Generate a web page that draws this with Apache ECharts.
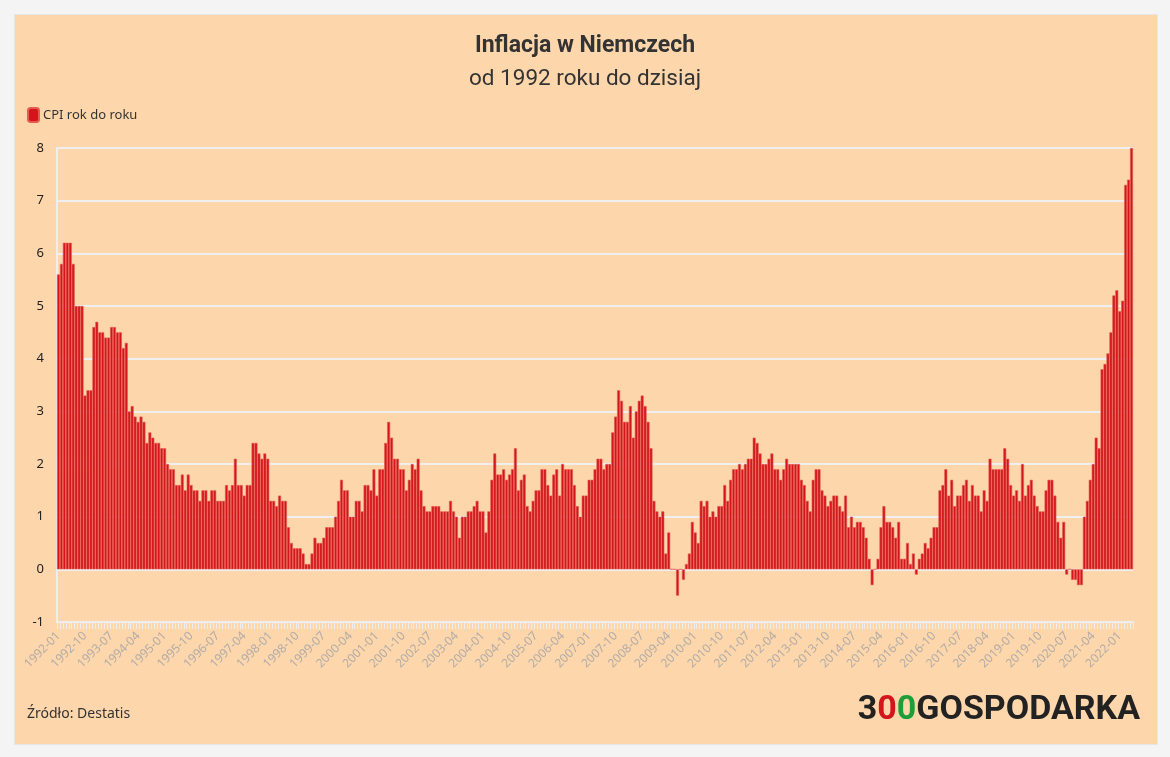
<!DOCTYPE html>
<html>
<head>
<meta charset="utf-8">
<script src="https://cdn.jsdelivr.net/npm/echarts@6/dist/echarts.min.js"></script>
<style>
  html, body { margin: 0; padding: 0; background: #f4f4f4; }
  #frame { position: absolute; left: 14px; top: 14px; width: 1142px; height: 729px; background: #fdd6ab; border: 1px solid #e6e6e6; }
  #chart { position: absolute; left: 0; top: 0; width: 1170px; height: 757px; }
</style>
</head>
<body>
<div id="frame"></div>
<div id="chart"></div>
<script>
// Monthly categories 1992-01 .. 2022-05
const startYear = 1992;
const endYear = 2022;
const lastMonth = 5;
const categories = [];
for (let y = startYear; y <= endYear; y++) {
  for (let m = 1; m <= 12; m++) {
    if (y === endYear && m > lastMonth) break;
    categories.push(y + '-' + (m < 10 ? '0' + m : m));
  }
}

// CPI year-over-year (%), grouped by year
const cpi1992 = [5.6, 5.8, 6.2, 6.2, 6.2, 5.8, 5.0, 5.0, 5.0, 3.3, 3.4, 3.4];
const cpi1993 = [4.6, 4.7, 4.5, 4.5, 4.4, 4.4, 4.6, 4.6, 4.5, 4.5, 4.2, 4.3];
const cpi1994 = [3.0, 3.1, 2.9, 2.8, 2.9, 2.8, 2.4, 2.6, 2.5, 2.4, 2.4, 2.3];
const cpi1995 = [2.3, 2.0, 1.9, 1.9, 1.6, 1.6, 1.8, 1.5, 1.8, 1.6, 1.5, 1.5];
const cpi1996 = [1.3, 1.5, 1.5, 1.3, 1.5, 1.5, 1.3, 1.3, 1.3, 1.6, 1.5, 1.6];
const cpi1997 = [2.1, 1.6, 1.6, 1.4, 1.6, 1.6, 2.4, 2.4, 2.2, 2.1, 2.2, 2.1];
const cpi1998 = [1.3, 1.3, 1.2, 1.4, 1.3, 1.3, 0.8, 0.5, 0.4, 0.4, 0.4, 0.3];
const cpi1999 = [0.1, 0.1, 0.3, 0.6, 0.5, 0.5, 0.6, 0.8, 0.8, 0.8, 1.0, 1.3];
const cpi2000 = [1.7, 1.5, 1.5, 1.0, 1.0, 1.3, 1.3, 1.1, 1.6, 1.6, 1.5, 1.9];
const cpi2001 = [1.4, 1.9, 1.9, 2.4, 2.8, 2.5, 2.1, 2.1, 1.9, 1.9, 1.5, 1.7];
const cpi2002 = [2.0, 1.9, 2.1, 1.5, 1.2, 1.1, 1.1, 1.2, 1.2, 1.2, 1.1, 1.1];
const cpi2003 = [1.1, 1.3, 1.1, 1.0, 0.6, 1.0, 1.0, 1.1, 1.1, 1.2, 1.3, 1.1];
const cpi2004 = [1.1, 0.7, 1.1, 1.7, 2.2, 1.8, 1.8, 1.9, 1.7, 1.8, 1.9, 2.3];
const cpi2005 = [1.5, 1.7, 1.8, 1.2, 1.1, 1.3, 1.5, 1.5, 1.9, 1.9, 1.6, 1.4];
const cpi2006 = [1.8, 1.9, 1.4, 2.0, 1.9, 1.9, 1.9, 1.6, 1.2, 1.0, 1.4, 1.4];
const cpi2007 = [1.7, 1.7, 1.9, 2.1, 2.1, 1.9, 2.0, 2.0, 2.6, 2.9, 3.4, 3.2];
const cpi2008 = [2.8, 2.8, 3.1, 2.5, 3.0, 3.2, 3.3, 3.1, 2.8, 2.3, 1.3, 1.1];
const cpi2009 = [1.0, 1.1, 0.3, 0.7, 0.0, 0.0, -0.5, 0.0, -0.2, 0.1, 0.3, 0.9];
const cpi2010 = [0.7, 0.5, 1.3, 1.2, 1.3, 1.0, 1.1, 1.0, 1.2, 1.2, 1.6, 1.3];
const cpi2011 = [1.7, 1.9, 1.9, 2.0, 1.9, 2.0, 2.1, 2.1, 2.5, 2.4, 2.2, 2.0];
const cpi2012 = [2.0, 2.1, 2.2, 1.9, 1.9, 1.7, 1.9, 2.1, 2.0, 2.0, 2.0, 2.0];
const cpi2013 = [1.7, 1.6, 1.3, 1.1, 1.7, 1.9, 1.9, 1.5, 1.4, 1.2, 1.3, 1.4];
const cpi2014 = [1.4, 1.2, 1.1, 1.4, 0.8, 1.0, 0.8, 0.9, 0.9, 0.8, 0.6, 0.2];
const cpi2015 = [-0.3, 0.0, 0.2, 0.8, 1.2, 0.9, 0.9, 0.8, 0.6, 0.9, 0.2, 0.2];
const cpi2016 = [0.5, 0.1, 0.3, -0.1, 0.2, 0.3, 0.5, 0.4, 0.6, 0.8, 0.8, 1.5];
const cpi2017 = [1.6, 1.9, 1.4, 1.7, 1.2, 1.4, 1.4, 1.6, 1.7, 1.3, 1.6, 1.4];
const cpi2018 = [1.4, 1.1, 1.5, 1.3, 2.1, 1.9, 1.9, 1.9, 1.9, 2.3, 2.1, 1.6];
const cpi2019 = [1.4, 1.5, 1.3, 2.0, 1.4, 1.6, 1.7, 1.4, 1.2, 1.1, 1.1, 1.5];
const cpi2020 = [1.7, 1.7, 1.4, 0.9, 0.6, 0.9, -0.1, 0.0, -0.2, -0.2, -0.3, -0.3];
const cpi2021 = [1.0, 1.3, 1.7, 2.0, 2.5, 2.3, 3.8, 3.9, 4.1, 4.5, 5.2, 5.3];
const cpi2022 = [4.9, 5.1, 7.3, 7.4, 8.0];

const cpiValues = [].concat(
  cpi1992, cpi1993, cpi1994, cpi1995, cpi1996, cpi1997, cpi1998, cpi1999,
  cpi2000, cpi2001, cpi2002, cpi2003, cpi2004, cpi2005, cpi2006, cpi2007,
  cpi2008, cpi2009, cpi2010, cpi2011, cpi2012, cpi2013, cpi2014, cpi2015,
  cpi2016, cpi2017, cpi2018, cpi2019, cpi2020, cpi2021, cpi2022
);

const seriesName = 'CPI rok do roku';
const titleText = 'Inflacja w Niemczech';
const subtitleText = 'od 1992 roku do dzisiaj';
const sourceText = 'Źródło: Destatis';

const chart = echarts.init(document.getElementById('chart'), null, { renderer: 'canvas' });
chart.setOption({
  backgroundColor: 'transparent',
  animation: false,
  title: {
    text: titleText,
    subtext: subtitleText,
    left: 'center',
    top: 30,
    itemGap: 10,
    textStyle: { fontFamily: 'Liberation Sans Narrow, Roboto, sans-serif', fontWeight: 'bold', fontSize: 23, color: '#333' },
    subtextStyle: { fontFamily: 'Roboto, sans-serif', fontSize: 22.5, color: '#333' }
  },
  legend: {
    left: 22,
    top: 102,
    icon: 'roundRect',
    itemWidth: 11,
    itemHeight: 14,
    itemGap: 5,
    textStyle: { fontFamily: 'Noto Sans, sans-serif', fontSize: 13, color: '#333', padding: [0, 0, 0, -1] },
    data: [seriesName]
  },
  grid: { left: 57, right: 37, top: 148, bottom: 135, containLabel: false },
  xAxis: {
    type: 'category',
    data: categories,
    axisLine: { onZero: false, lineStyle: { color: '#eeeeee', width: 2 } },
    axisTick: { show: true, interval: 0, length: 7, lineStyle: { color: '#eeeeee' } },
    axisLabel: {
      interval: 8,
      rotate: 45,
      fontFamily: 'Noto Sans, sans-serif',
      fontSize: 12,
      color: '#b1aca8',
      margin: 12
    },
    splitLine: { show: false }
  },
  yAxis: {
    type: 'value',
    min: -1,
    max: 8,
    interval: 1,
    axisLine: { show: true, lineStyle: { color: '#eeeeee', width: 2 } },
    axisTick: { show: false },
    axisLabel: { fontFamily: 'Noto Sans, sans-serif', fontSize: 13, color: '#222', margin: 13 },
    splitLine: { show: true, lineStyle: { color: '#efefef', width: 2 } }
  },
  series: [{
    name: seriesName,
    type: 'bar',
    data: cpiValues,
    barCategoryGap: '0%',
    itemStyle: { color: '#d3161b', borderColor: '#e65b50', borderWidth: 0.6 }
  }],
  graphic: [
    {
      type: 'text',
      left: 27,
      top: 707,
      style: { text: sourceText, font: '14px "Noto Sans", sans-serif', fill: '#333' }
    },
    {
      type: 'text',
      right: 30,
      top: 693,
      style: {
        text: '{a|3}{b|0}{c|0}{a|GOSPODARKA}',
        rich: {
          a: { fontFamily: 'Roboto, sans-serif', fontWeight: 'bold', fontSize: 34, fill: '#222' },
          b: { fontFamily: 'Roboto, sans-serif', fontWeight: 'bold', fontSize: 34, fill: '#d3161b' },
          c: { fontFamily: 'Roboto, sans-serif', fontWeight: 'bold', fontSize: 34, fill: '#1e9e3a' }
        }
      }
    }
  ]
});
</script>
</body>
</html>
